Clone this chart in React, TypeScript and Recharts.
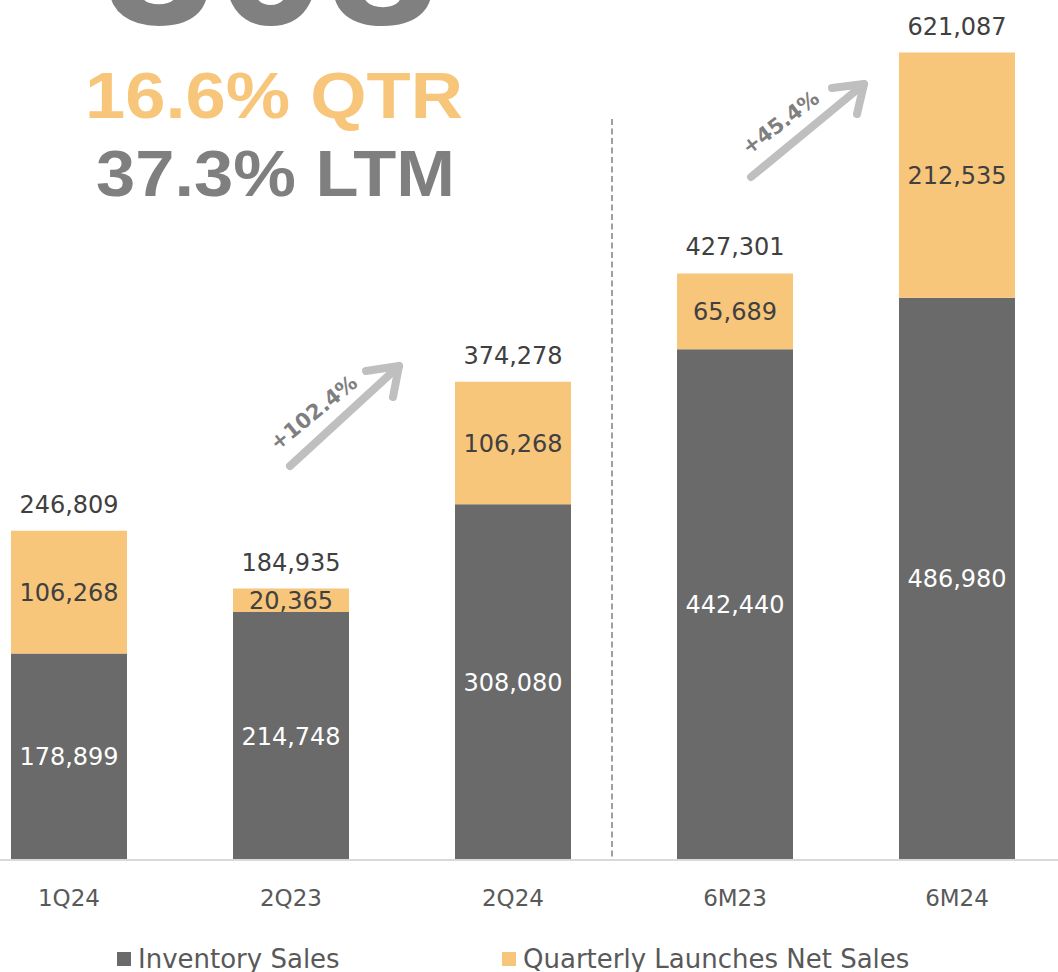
import React from 'react';
import { BarChart, Bar, XAxis, YAxis, LabelList, Legend, ReferenceLine } from 'recharts';

const categories = ['1Q24', '2Q23', '2Q24', '6M23', '6M24'];
const inventorySales = [178899, 214748, 308080, 442440, 486980];
const launchesNetSales = [106268, 20365, 106268, 65689, 212535];
const totalLabels = ['246,809', '184,935', '374,278', '427,301', '621,087'];
const growthLabels = ['+102.4%', '+45.4%'];
const headline = ['308', '16.6% QTR', '37.3% LTM'];
const seriesNames = ['Inventory Sales', 'Quarterly Launches Net Sales'];

const data = categories.map((c, i) => ({
  name: c,
  inventory: inventorySales[i],
  launches: launchesNetSales[i],
  total: totalLabels[i],
}));

const DARK = '#696A69';
const ORANGE = '#F7C67A';
const FONT = '"DejaVu Sans", sans-serif';
const fmt = (v: any) => Number(v).toLocaleString('en-US');

const CHART_LEFT = -42;
const CHART_W = 1110;
const Y_MAX = 745000;
const DIVIDER_TOP = 642000;

const TotalLabel = (props: any) => {
  const { x, y, width, index } = props;
  return (
    <text x={x + width / 2} y={y - 18} textAnchor="middle" fill="#404040" fontSize={24} fontFamily={FONT}>
      {totalLabels[index]}
    </text>
  );
};

const LegendContent = (props: any) => {
  const payload = props.payload || [];
  const lefts = [117 - CHART_LEFT, 502 - CHART_LEFT];
  return (
    <div style={{ position: 'relative', width: CHART_W, height: 34 }}>
      {payload.map((p: any, i: number) => (
        <div key={i} style={{ position: 'absolute', left: lefts[i], top: 0, display: 'flex', alignItems: 'center', height: 34 }}>
          <span style={{ width: 14, height: 14, background: p.color, display: 'inline-block', marginRight: 7 }} />
          <span style={{ fontFamily: FONT, fontSize: 26, color: '#595959', whiteSpace: 'nowrap' }}>{p.value}</span>
        </div>
      ))}
    </div>
  );
};

const DividerShape = (props: any) => {
  const { x1, y1, y2 } = props;
  const bottom = Math.max(y1, y2);
  const topEdge = Math.min(y1, y2);
  const top = bottom - ((bottom - topEdge) * DIVIDER_TOP) / Y_MAX;
  return <line x1={x1 - 12} x2={x1 - 12} y1={top} y2={bottom} stroke="#808080" strokeWidth={1.5} strokeDasharray="6 3.5" />;
};

export default function App() {
  return (
    <div style={{ position: 'absolute', left: 0, top: 0, width: 1058, height: 972, overflow: 'hidden', background: '#fff' }}>
      <div style={{ position: 'absolute', left: CHART_LEFT, top: 0 }}>
        <BarChart width={CHART_W} height={972} data={data} margin={{ top: 0, right: 0, bottom: 0, left: 0 }} barSize={116}>
          <XAxis
            dataKey="name"
            height={112}
            tickLine={false}
            axisLine={{ stroke: '#D9D9D9', strokeWidth: 2 }}
            tick={{ fill: '#595959', fontSize: 23, fontFamily: FONT }}
            tickMargin={24}
            interval={0}
          />
          <YAxis hide domain={[0, Y_MAX]} />
          <ReferenceLine x="2Q24" position="end" shape={DividerShape} ifOverflow="visible" />
          <Bar dataKey="inventory" name={seriesNames[0]} stackId="a" fill={DARK} isAnimationActive={false}>
            <LabelList dataKey="inventory" position="center" fill="#FFFFFF" fontSize={24} fontFamily={FONT} formatter={fmt} />
          </Bar>
          <Bar dataKey="launches" name={seriesNames[1]} stackId="a" fill={ORANGE} isAnimationActive={false}>
            <LabelList dataKey="launches" position="center" fill="#404040" fontSize={24} fontFamily={FONT} formatter={fmt} />
            <LabelList dataKey="total" content={TotalLabel} />
          </Bar>
          <Legend
            verticalAlign="middle"
            layout="horizontal"
            align="center"
            content={LegendContent}
            wrapperStyle={{ top: 942, left: 0, width: CHART_W }}
          />
        </BarChart>
      </div>
      <svg width={1058} height={972} style={{ position: 'absolute', left: 0, top: 0, pointerEvents: 'none' }}>
        <text x={271} y={24} textAnchor="middle" fontSize={195} fontWeight={700} fontFamily='"Liberation Sans", Arial, sans-serif' fill="#808080" textLength={335} lengthAdjust="spacingAndGlyphs">
          {headline[0]}
        </text>
        <text x={274} y={118} textAnchor="middle" fontSize={65} fontWeight={700} fontFamily='"Liberation Sans", Arial, sans-serif' fill={ORANGE} textLength={378} lengthAdjust="spacingAndGlyphs">
          {headline[1]}
        </text>
        <text x={275.5} y={196} textAnchor="middle" fontSize={65} fontWeight={700} fontFamily='"Liberation Sans", Arial, sans-serif' fill="#7F7F7F" textLength={359} lengthAdjust="spacingAndGlyphs">
          {headline[2]}
        </text>
        <g stroke="#BFBFBF" strokeWidth={8} strokeLinecap="round" strokeLinejoin="round" fill="none">
          <line x1={290} y1={466} x2={399} y2={366} />
          <polyline points="366,371 399,366 393,397" />
          <line x1={751} y1={177} x2={864} y2={84} />
          <polyline points="832,88 864,84 857,114" />
        </g>
        <text x={313} y={420} textAnchor="middle" transform="rotate(-39 313 412)" fontSize={21} fontWeight={700} fontFamily={FONT} fill="#7F7F7F">
          {growthLabels[0]}
        </text>
        <text x={780} y={130} textAnchor="middle" transform="rotate(-37 780 122)" fontSize={21} fontWeight={700} fontFamily={FONT} fill="#7F7F7F">
          {growthLabels[1]}
        </text>
      </svg>
    </div>
  );
}
